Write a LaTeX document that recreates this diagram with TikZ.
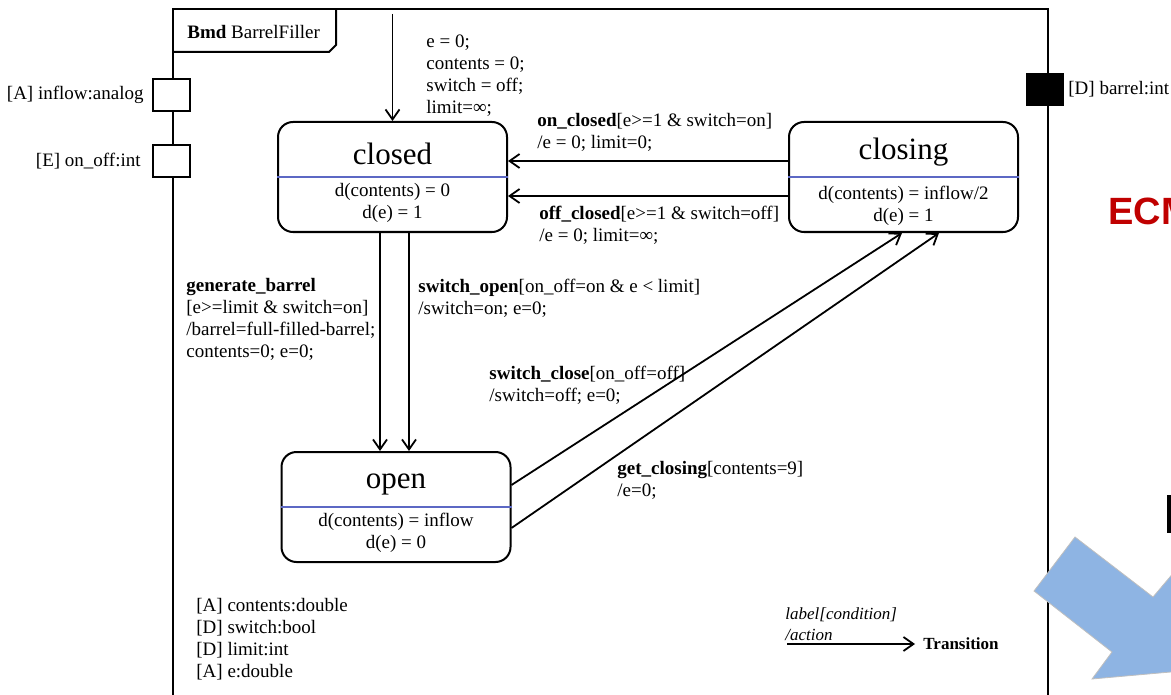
\documentclass[tikz,border=0pt]{standalone}
\usepackage{fontspec}
\setmainfont{Liberation Serif}
\newfontfamily\slidefont{Liberation Sans}
\usetikzlibrary{arrows.meta}

\definecolor{sepblue}{RGB}{92,104,196}
\definecolor{ecmred}{RGB}{192,0,0}
\definecolor{slidearrow}{RGB}{142,180,227}

\tikzstyle{statebox}=[rectangle,
                      draw,
                      line width=1pt,
                      rounded corners=7.5pt,
                      minimum width=114.5pt,
                      minimum height=55pt]
\tikzstyle{statename}=[inner sep=0pt, anchor=base, font=\fontsize{15.5}{18}\selectfont]
\tikzstyle{stateeq}=[inner sep=0pt, anchor=north, align=center]
\tikzstyle{sepline}=[draw=sepblue, line width=0.7pt]
\tikzstyle{trans}=[-{Straight Barb[length=5pt,width=7pt]}, line width=0.9pt]
\tikzstyle{translbl}=[inner sep=0pt, anchor=north west, align=left,
                      execute at begin node=\strut]
\tikzstyle{port}=[draw, line width=1pt, fill=white, inner sep=0pt,
                  minimum width=18.5pt, minimum height=16pt]
\tikzstyle{legendtxt}=[inner sep=0pt, font=\fontsize{8.5}{10}\selectfont]

\begin{document}
\begin{tikzpicture}[x=0.5pt, y=-0.5pt, font=\fontsize{9.5}{11}\selectfont]
    \useasboundingbox (0,0) rectangle (1171,695);
    \clip (0,0) rectangle (1171,695);

    \draw[line width=1pt] (173,710) -- (173,9) -- (1048,9) -- (1048,710);
    \draw[line width=1pt] (173,52) -- (329,52) -- (336,45) -- (336,9);
    \node[anchor=west, inner sep=0pt] (bmd) at (187,32) {\textbf{Bmd} BarrelFiller};

    \node[port] (inflow) at (171.5,95) {};
    \node[port] (onoff) at (171.5,161) {};
    \node[port, fill=black, minimum width=18pt, minimum height=15.5pt] (barrel) at (1045,89.5) {};
    \node[anchor=east, inner sep=0pt] (inflowlbl) at ([xshift=-4pt]inflow.west) {[A] inflow:analog};
    \node[anchor=east, inner sep=0pt] (onofflbl) at ([xshift=-5.5pt]onoff.west) {[E] on\_off:int};
    \node[anchor=west, inner sep=0pt] (barrellbl) at ([xshift=2pt]barrel.east) {[D] barrel:int};

    \node[statebox] (closed) at (392.5,177) {};
    \node[statebox] (closing) at (903.5,177) {};
    \node[statebox] (open) at (396,507) {};
    \draw[sepline] (closed.west) -- (closed.east);
    \draw[sepline] (closing.west) -- (closing.east);
    \draw[sepline] (open.west) -- (open.east);
    \node[statename] (closedname) at ([yshift=6pt]closed.center) {closed};
    \node[statename] (closingname) at ([yshift=8.5pt]closing.center) {closing};
    \node[statename] (openname) at ([yshift=9.5pt]open.center) {open};
    \node[stateeq] (closedeq) at ([yshift=-3pt]closed.center) {d(contents) = 0\\d(e) = 1};
    \node[stateeq] (closingeq) at ([yshift=-4.5pt]closing.center) {d(contents) = inflow/2\\d(e) = 1};
    \node[stateeq] (openeq) at ([yshift=-3pt]open.center) {d(contents) = inflow\\d(e) = 0};

    \coordinate (init) at (392.5,14);
    \draw[trans] (init) -- (init |- closed.north);
    \draw[trans] ([yshift=8pt]closing.west) -- ([yshift=8pt]closed.east);
    \draw[trans] ([yshift=-9.5pt]closing.west) -- ([yshift=-9.5pt]closed.east);
    \draw[trans] ([xshift=-6.25pt]closed.south) -- ([xshift=-6.25pt]closed.south |- open.north);
    \draw[trans] ([xshift=8.25pt]closed.south) -- ([xshift=8.25pt]closed.south |- open.north);
    \draw[trans] ([yshift=11pt]open.east) -- ([xshift=-0.75pt]closing.south);
    \draw[trans] ([yshift=-10.5pt]open.east) -- ([xshift=17.75pt]closing.south);

    \node[translbl] (initlbl) at (426,34) {e = 0;\\contents = 0;\\switch = off;\\limit=∞;};
    \node[translbl] (onclosedlbl) at (537,113) {\textbf{on\_closed}[e>=1 \& switch=on]\\/e = 0; limit=0;};
    \node[translbl] (offclosedlbl) at (539,206) {\textbf{off\_closed}[e>=1 \& switch=off]\\/e = 0; limit=∞;};
    \node[translbl] (generatelbl) at (186,278) {\textbf{generate\_barrel}\\{[}e>=limit \& switch=on{]}\\/barrel=full-filled-barrel;\\contents=0; e=0;};
    \node[translbl] (openlbl) at (418,279) {\textbf{switch\_open}[on\_off=on \& e < limit]\\/switch=on; e=0;};
    \node[translbl] (closelbl) at (489,366) {\textbf{switch\_close}[on\_off=off]\\/switch=off; e=0;};
    \node[translbl] (getclosinglbl) at (617,461) {\textbf{get\_closing}[contents=9]\\/e=0;};
    \node[translbl] (decls) at (196,598) {[A] contents:double\\{[}D{]} switch:bool\\{[}D{]} limit:int\\{[}A{]} e:double};

    \node[legendtxt, anchor=base west] (lgcond) at (785,619) {\itshape label[condition]};
    \node[legendtxt, anchor=base west] (lgaction) at (785,640) {\itshape /action};
    \node[legendtxt, anchor=west] (lgtrans) at (923,644) {\textbf{Transition}};
    \coordinate (lgstart) at (787,644);
    \draw[trans] (lgstart) -- ([xshift=-4pt]lgtrans.west);

    \node[anchor=base west, inner sep=0pt, text=ecmred, font=\slidefont\fontsize{19}{22}\selectfont\bfseries] (ecm) at (1108,225) {ECM};
    \fill[black] (1167,495) rectangle (1180,533);
    \filldraw[fill=slidearrow, draw=black!25, line width=0.4pt]
        (1075,537) -- (1153,597) -- (1175,571) -- (1193,670) -- (1092,679) -- (1112,652) -- (1034,591) -- cycle;
\end{tikzpicture}
\end{document}
